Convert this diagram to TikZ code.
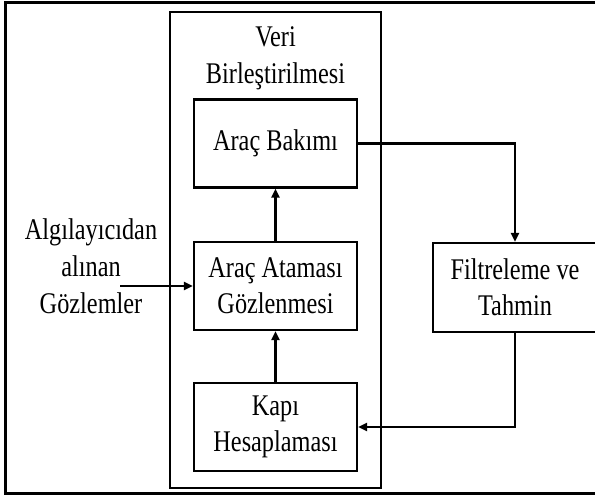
\documentclass[tikz,border=0pt]{standalone}
\usepackage{fontspec}
\setmainfont[FakeStretch=0.81]{Liberation Serif}
\usetikzlibrary{arrows.meta}
\begin{document}
\begin{tikzpicture}[x=1pt,y=-1pt,
  boxnode/.style={draw,line width=2.3pt,minimum width=163pt,minimum height=88pt,inner sep=0pt,align=center,font=\fontsize{30}{36}\selectfont},
  txt/.style={align=center,font=\fontsize{30}{37}\selectfont,inner sep=0pt},
  arr/.style={line width=2.2pt,-{Triangle[length=9pt,width=8pt]}}]
\useasboundingbox (0,0) rectangle (595,495);
\draw[line width=3pt] (5,3) rectangle (605,493);
\draw[line width=2pt] (170,12) rectangle (381,488);
\node[txt] (title) at (275.5,58) {Veri\\Birleştirilmesi};
\node[boxnode] (bakim) at (275.5,143.5) {Araç Bakımı};
\node[boxnode] (atama) at (275.5,286) {Araç Ataması\\Gözlenmesi};
\node[boxnode] (kapi) at (275.5,427) {Kapı\\Hesaplaması};
\node[boxnode,minimum width=164pt,minimum height=89pt] (filt) at (515,287.5) {Filtreleme ve\\Tahmin};
\node[txt] (input) at (91,266) {Algılayıcıdan\\alınan\\Gözlemler};
\coordinate (instart) at (120,286);
\draw[arr] (instart) -- (atama.west);
\draw[arr] (atama.north) -- (bakim.south);
\draw[arr] (kapi.north) -- (atama.south);
\draw[arr] (bakim.east) -| (filt.north);
\draw[arr] (filt.south) |- (kapi.east);
\end{tikzpicture}
\end{document}
